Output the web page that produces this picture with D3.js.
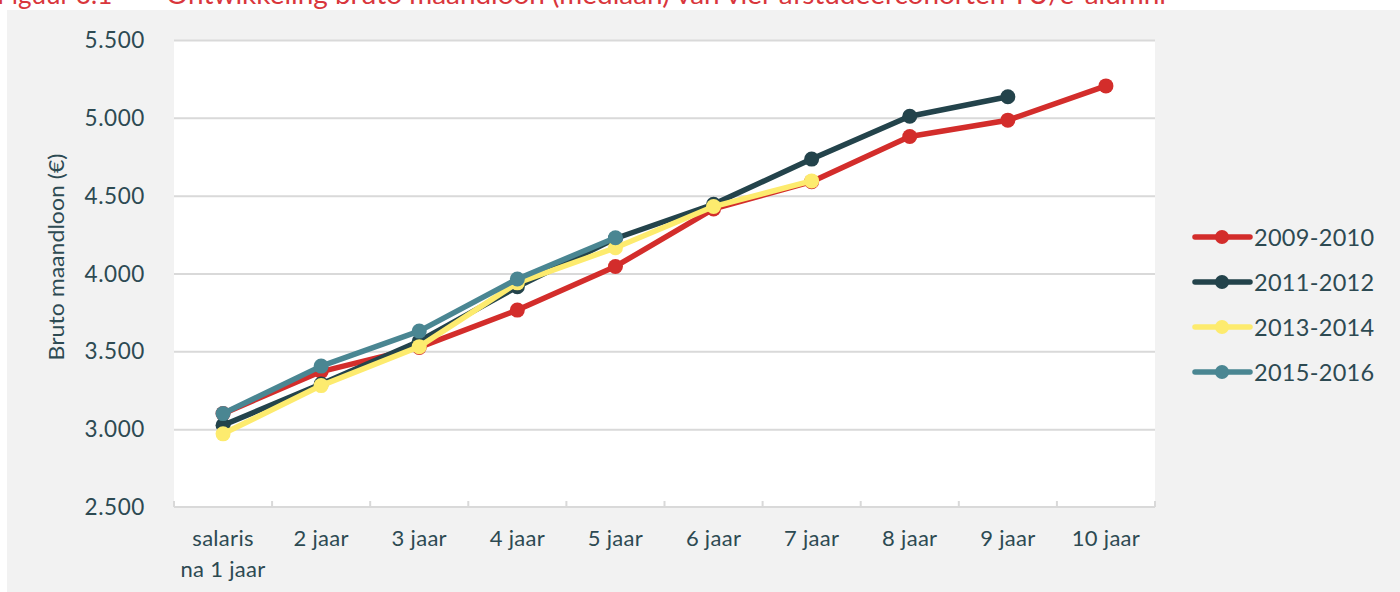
<!DOCTYPE html>
<html>
<head>
<meta charset="utf-8">
<script src="https://cdn.jsdelivr.net/npm/d3@7"></script>
<style>
  body { margin: 0; background: #fff; }
  svg { display: block; }
  text { font-family: Lato, "Noto Sans", sans-serif; fill: #2d4a52; }
</style>
</head>
<body>
<div id="container"><svg></svg></div>
<script>
let width = 1400;
let height = 592;
let padding = {'left': 174, 'right': 245, 'top': 40, 'bottom': 85};

let categories = ['salaris\nna 1 jaar','2 jaar','3 jaar','4 jaar','5 jaar','6 jaar','7 jaar','8 jaar','9 jaar','10 jaar'];
let yTicks = [2500, 3000, 3500, 4000, 4500, 5000, 5500];
let cohorts = ['2009-2010','2011-2012','2013-2014','2015-2016'];
let cohortColors = ['#d32d2b','#23434b','#fdeb6e','#4a8692'];
let values2009 = [3100, 3370, 3525, 3765, 4045, 4415, 4590, 4880, 4985, 5205];
let values2011 = [3025, 3290, 3565, 3915, 4225, 4445, 4735, 5010, 5135];
let values2013 = [2970, 3280, 3530, 3940, 4165, 4430, 4595];
let values2015 = [3100, 3405, 3630, 3965, 4230];
let seriesValues = [values2009, values2011, values2013, values2015];

let svg = d3.select('#container').select('svg')
    .attr('width', width)
    .attr('height', height);

// grey panel
svg.append('rect')
    .attr('x', 7).attr('y', 10)
    .attr('width', width - 7).attr('height', height - 10)
    .attr('fill', '#f2f2f2');

// title, cut off at the top in the source
svg.append('text')
    .attr('x', -3).attr('y', 4)
    .style('font-size', '26px')
    .style('fill', '#d9363c')
    .text('Figuur 3.1');
svg.append('text')
    .attr('x', 166).attr('y', 4)
    .attr('textLength', 1000)
    .attr('lengthAdjust', 'spacingAndGlyphs')
    .style('font-size', '26px')
    .style('fill', '#d9363c')
    .text('Ontwikkeling bruto maandloon (mediaan) van vier afstudeercohorten TU/e-alumni');

let xScale = d3.scaleBand()
    .domain(categories)
    .range([padding.left, width - padding.right]);
let yScale = d3.scaleLinear()
    .domain([2500, 5500])
    .range([height - padding.bottom, padding.top]);

// plot area
svg.append('rect')
    .attr('x', padding.left).attr('y', padding.top)
    .attr('width', width - padding.right - padding.left)
    .attr('height', height - padding.bottom - padding.top)
    .attr('fill', '#fff');

// grid
svg.append('g')
    .attr('transform', `translate(${padding.left},0)`)
    .call(d3.axisLeft(yScale).tickValues(yTicks.slice(1))
        .tickSize(-(width - padding.right - padding.left)).tickFormat(''))
    .call(g => g.select('.domain').remove())
    .call(g => g.selectAll('line').attr('stroke', '#d9d9d9').attr('stroke-width', 2));

// y labels
svg.append('g')
    .selectAll('text')
    .data(yTicks)
    .join('text')
    .attr('x', 145)
    .attr('y', d => yScale(d) + 8)
    .attr('text-anchor', 'end')
    .style('font-size', '22.5px')
    .style('letter-spacing', '0.6px')
    .text(d => d3.format(',')(d).replace(',', '.'));

svg.append('text')
    .attr('transform', `translate(64,${257}) rotate(-90)`)
    .attr('text-anchor', 'middle')
    .attr('textLength', 207)
    .attr('lengthAdjust', 'spacingAndGlyphs')
    .style('font-size', '21px')
    .text('Bruto maandloon (€)');

// x axis
let xAxis = svg.append('g')
    .attr('transform', `translate(0,${height - padding.bottom})`);
xAxis.append('line')
    .attr('x1', padding.left).attr('x2', width - padding.right)
    .attr('stroke', '#d9d9d9').attr('stroke-width', 2);
xAxis.selectAll('.tick')
    .data(categories.concat(['end']))
    .join('line')
    .attr('x1', (d, i) => i < categories.length ? xScale(d) : width - padding.right)
    .attr('x2', (d, i) => i < categories.length ? xScale(d) : width - padding.right)
    .attr('y1', -6).attr('y2', 0)
    .attr('stroke', '#d9d9d9').attr('stroke-width', 2);
xAxis.selectAll('text')
    .data(categories)
    .join('text')
    .attr('text-anchor', 'middle')
    .attr('transform', d => `translate(${xScale(d) + xScale.bandwidth() / 2},0)`)
    .style('font-size', '22px')
    .style('letter-spacing', '0.3px')
    .each(function (d) {
        d.split('\n').forEach((line, j) => {
            d3.select(this).append('tspan')
                .attr('x', 0)
                .attr('y', 39 + j * 31)
                .text(line);
        });
    });

// series
let line = d3.line()
    .x((d, i) => xScale(categories[i]) + xScale.bandwidth() / 2)
    .y(d => yScale(d));

seriesValues.forEach((vals, k) => {
    let g = svg.append('g');
    g.append('path')
        .datum(vals)
        .attr('d', line)
        .attr('fill', 'none')
        .attr('stroke', cohortColors[k])
        .attr('stroke-width', 5.5)
        .attr('stroke-linejoin', 'round');
    g.selectAll('circle')
        .data(vals)
        .join('circle')
        .attr('cx', (d, i) => xScale(categories[i]) + xScale.bandwidth() / 2)
        .attr('cy', d => yScale(d))
        .attr('r', 7.5)
        .attr('fill', cohortColors[k]);
});

// legend
let legend = svg.append('g')
    .selectAll('g')
    .data(cohorts)
    .join('g')
    .attr('transform', (d, i) => `translate(1195,${237 + i * 45})`);
legend.append('line')
    .attr('x1', 0).attr('x2', 55)
    .attr('stroke', (d, i) => cohortColors[i])
    .attr('stroke-width', 5.5)
    .attr('stroke-linecap', 'round');
legend.append('circle')
    .attr('cx', 27).attr('r', 7)
    .attr('fill', (d, i) => cohortColors[i]);
legend.append('text')
    .attr('x', 59).attr('y', 8.5)
    .style('font-size', '23.5px')
    .style('letter-spacing', '0.3px')
    .text(d => d);
</script>
</body>
</html>
